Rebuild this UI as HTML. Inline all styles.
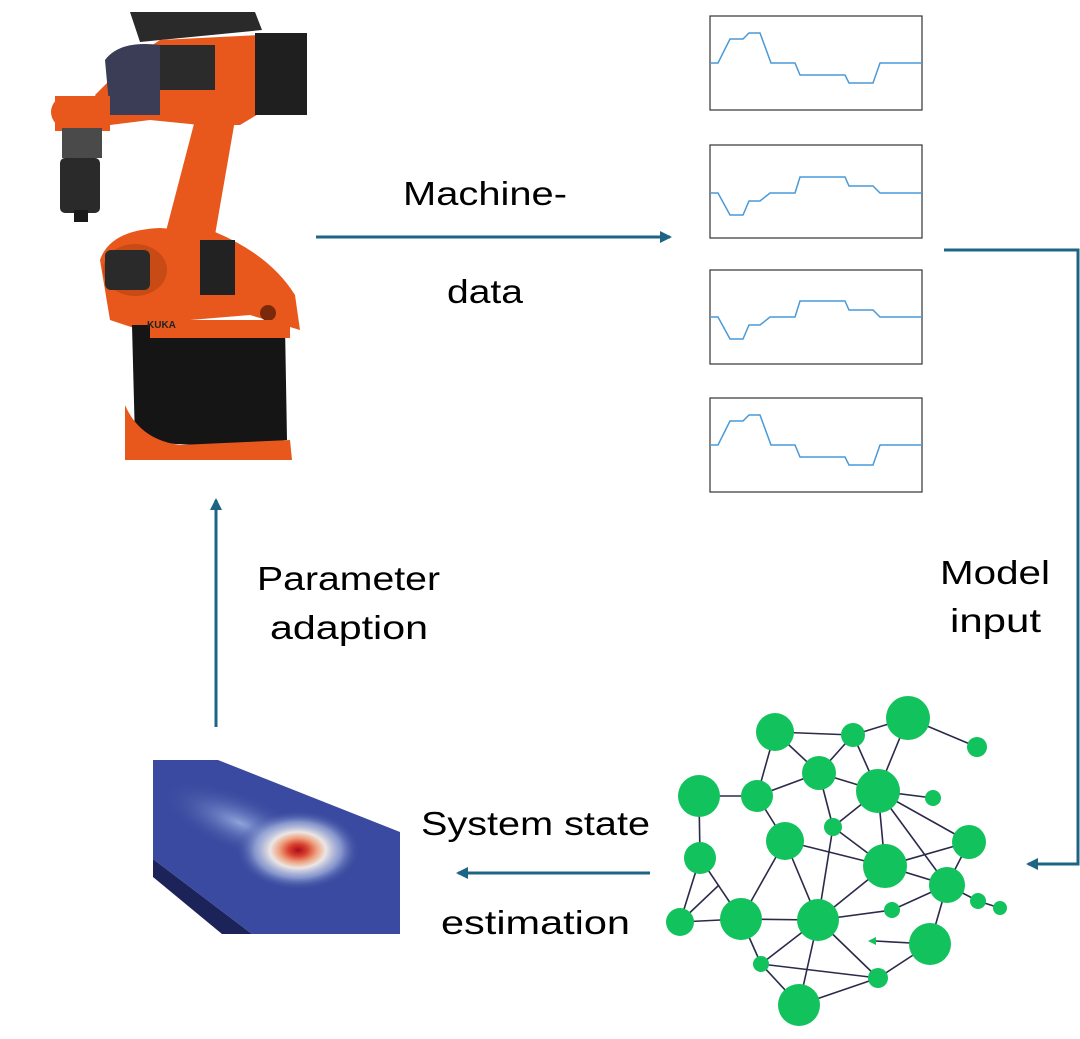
<!DOCTYPE html>
<html><head><meta charset="utf-8"><style>html,body{margin:0;padding:0;background:#fff}svg{display:block}</style></head>
<body>
<svg width="1080" height="1039" viewBox="0 0 1080 1039" xmlns="http://www.w3.org/2000/svg" font-family="Liberation Sans, sans-serif">
<defs>
<marker id="ah" markerWidth="12" markerHeight="12" refX="10" refY="6" orient="auto" markerUnits="userSpaceOnUse"><path d="M0,0 L12,6 L0,12 z" fill="#1e6585"/></marker>
<radialGradient id="hot" cx="0.5" cy="0.5" r="0.5">
<stop offset="0" stop-color="#a80c1c"/><stop offset="0.15" stop-color="#d8402e"/><stop offset="0.3" stop-color="#eea07e"/><stop offset="0.45" stop-color="#ece6e4"/><stop offset="0.7" stop-color="#a6b6e0" stop-opacity="0.7"/><stop offset="1" stop-color="#3a4aa0" stop-opacity="0"/>
</radialGradient>
<radialGradient id="tail" cx="0.5" cy="0.5" r="0.5">
<stop offset="0" stop-color="#8ea4da"/><stop offset="1" stop-color="#3a4aa0" stop-opacity="0"/>
</radialGradient>
</defs>

<!-- Robot -->
<g>
<polygon points="130,12 255,12 262,30 140,42" fill="#2a2a2a"/>
<polygon points="95,95 130,60 160,40 260,35 265,110 240,125 200,125 150,120 110,125" fill="#e8581c"/>
<path d="M105,60 Q120,40 160,45 L160,115 L110,115 Z" fill="#3a3d55"/>
<rect x="160" y="45" width="55" height="45" fill="#2b2b2b"/>
<rect x="255" y="33" width="52" height="82" fill="#1f1f1f"/>
<circle cx="67" cy="112" r="16" fill="#e8581c"/>
<rect x="55" y="96" width="55" height="35" fill="#e8581c"/>
<rect x="62" y="128" width="40" height="30" fill="#4a4a4a"/>
<rect x="60" y="158" width="40" height="55" rx="5" fill="#2a2a2a"/>
<rect x="74" y="210" width="14" height="12" fill="#1a1a1a"/>
<polygon points="195,120 235,120 215,235 175,240 165,235" fill="#e8581c"/>
<path d="M100,260 Q110,230 160,228 L215,232 Q270,255 295,295 L300,330 L250,315 L190,320 L140,330 L110,320 Z" fill="#e8581c"/>
<ellipse cx="135" cy="270" rx="32" ry="26" fill="#c84a14"/>
<rect x="105" y="250" width="45" height="40" rx="6" fill="#2a2a2a"/>
<rect x="200" y="240" width="35" height="55" fill="#222"/>
<circle cx="268" cy="313" r="8" fill="#7a2a0a"/>
<path d="M132,325 L285,325 L287,440 Q210,450 135,440 Z" fill="#151515"/>
<path d="M125,405 Q140,440 180,445 L290,440 L292,460 L125,460 Z" fill="#e8581c"/>
<rect x="150" y="320" width="140" height="18" fill="#e8581c"/>
<text x="147" y="328" font-size="10" font-weight="bold" fill="#222">KUKA</text>
</g>

<!-- Plots -->
<g fill="none" stroke="#333" stroke-width="1.2">
<rect x="710" y="16" width="212" height="94"/>
<rect x="710" y="145" width="212" height="93"/>
<rect x="710" y="270" width="212" height="94"/>
<rect x="710" y="398" width="212" height="94"/>
</g>
<g fill="none" stroke="#4a9ad8" stroke-width="1.5">
<polyline points="710,63 718,63 730,39 743,39 749,33 760,33 771,63 795,63 800,75 845,75 849,83 873,83 880,63 922,63"/>
<polyline points="710,193 718,193 730,215 743,215 749,201 760,201 770,193 795,193 800,177 845,177 849,186 873,186 880,193 922,193"/>
<polyline points="710,317 718,317 730,339 743,339 749,325 760,325 770,317 795,317 800,301 845,301 849,310 873,310 880,317 922,317"/>
<polyline points="710,445 718,445 730,421 743,421 749,415 760,415 771,445 795,445 800,457 845,457 849,465 873,465 880,445 922,445"/>
</g>

<!-- Arrows -->
<g stroke="#1e6585" stroke-width="3" fill="none">
<line x1="316" y1="237" x2="670" y2="237" marker-end="url(#ah)"/>
<polyline points="944,250 1078,250 1078,864 1028,864" marker-end="url(#ah)"/>
<line x1="650" y1="873" x2="458" y2="873" marker-end="url(#ah)"/>
<line x1="216" y1="727" x2="216" y2="500" marker-end="url(#ah)"/>
</g>

<!-- Heat slab -->
<polygon points="153,859 153,877 222,934 252,934" fill="#1c2358"/>
<polygon points="153,760 218,760 400,832 400,934 252,934 153,859" fill="#3a4aa0"/>
<ellipse cx="240" cy="823" rx="85" ry="30" fill="url(#tail)" transform="rotate(22 240 823)"/>
<ellipse cx="298" cy="850" rx="62" ry="40" fill="url(#hot)"/>

<!-- Graph -->
<g stroke="#2a2a4a" stroke-width="1.6">
<line x1="775" y1="732" x2="853" y2="735"/><line x1="853" y1="735" x2="908" y2="718"/><line x1="908" y1="718" x2="977" y2="747"/>
<line x1="775" y1="732" x2="819" y2="773"/><line x1="853" y1="735" x2="819" y2="773"/><line x1="853" y1="735" x2="878" y2="791"/>
<line x1="908" y1="718" x2="878" y2="791"/><line x1="819" y1="773" x2="757" y2="796"/><line x1="819" y1="773" x2="878" y2="791"/>
<line x1="775" y1="732" x2="757" y2="796"/>
<line x1="819" y1="773" x2="833" y2="827"/><line x1="833" y1="827" x2="818" y2="920"/><line x1="878" y1="791" x2="933" y2="798"/>
<line x1="878" y1="791" x2="833" y2="827"/><line x1="833" y1="827" x2="885" y2="866"/><line x1="878" y1="791" x2="885" y2="866"/>
<line x1="878" y1="791" x2="969" y2="842"/><line x1="878" y1="791" x2="947" y2="885"/><line x1="699" y1="796" x2="757" y2="796"/>
<line x1="699" y1="796" x2="700" y2="858"/><line x1="757" y1="796" x2="785" y2="841"/><line x1="785" y1="841" x2="885" y2="866"/>
<line x1="785" y1="841" x2="741" y2="919"/><line x1="785" y1="841" x2="818" y2="920"/><line x1="969" y1="842" x2="885" y2="866"/>
<line x1="969" y1="842" x2="947" y2="885"/><line x1="885" y1="866" x2="947" y2="885"/><line x1="885" y1="866" x2="818" y2="920"/>
<line x1="947" y1="885" x2="978" y2="901"/><line x1="978" y1="901" x2="1000" y2="908"/><line x1="947" y1="885" x2="892" y2="910"/>
<line x1="892" y1="910" x2="818" y2="920"/><line x1="947" y1="885" x2="930" y2="944"/><line x1="700" y1="858" x2="680" y2="922"/>
<line x1="700" y1="858" x2="741" y2="919"/><line x1="680" y1="922" x2="741" y2="919"/><line x1="680" y1="922" x2="719" y2="885"/>
<line x1="741" y1="919" x2="818" y2="920"/><line x1="741" y1="919" x2="761" y2="964"/><line x1="818" y1="920" x2="761" y2="964"/>
<line x1="818" y1="920" x2="799" y2="1005"/><line x1="818" y1="920" x2="878" y2="978"/><line x1="761" y1="964" x2="878" y2="978"/>
<line x1="761" y1="964" x2="799" y2="1005"/><line x1="799" y1="1005" x2="878" y2="978"/><line x1="878" y1="978" x2="930" y2="944"/>
<line x1="930" y1="944" x2="875" y2="941"/>
</g>
<polygon points="868,941 876,937 876,945" fill="#12c25c"/>
<g fill="#12c25c">
<circle cx="775" cy="732" r="19"/><circle cx="853" cy="735" r="12"/><circle cx="908" cy="718" r="22"/><circle cx="977" cy="747" r="10"/>
<circle cx="819" cy="773" r="17"/><circle cx="878" cy="791" r="22"/><circle cx="933" cy="798" r="8"/><circle cx="699" cy="796" r="21"/>
<circle cx="757" cy="796" r="16"/><circle cx="833" cy="827" r="9"/><circle cx="785" cy="841" r="19"/><circle cx="969" cy="842" r="17"/>
<circle cx="885" cy="866" r="22"/><circle cx="700" cy="858" r="16"/><circle cx="947" cy="885" r="18"/><circle cx="978" cy="901" r="8"/>
<circle cx="1000" cy="908" r="7"/><circle cx="892" cy="910" r="8"/><circle cx="680" cy="922" r="14"/><circle cx="741" cy="919" r="21"/>
<circle cx="818" cy="920" r="21"/><circle cx="930" cy="944" r="21"/><circle cx="761" cy="964" r="8"/><circle cx="878" cy="978" r="10"/>
<circle cx="799" cy="1005" r="21"/>
</g>

<!-- Labels -->
<g font-size="33" fill="#000">
<text x="403" y="205" textLength="164" lengthAdjust="spacingAndGlyphs">Machine-</text>
<text x="447" y="303" textLength="76" lengthAdjust="spacingAndGlyphs">data</text>
<text x="257" y="590" textLength="183" lengthAdjust="spacingAndGlyphs">Parameter</text>
<text x="270" y="639" textLength="158" lengthAdjust="spacingAndGlyphs">adaption</text>
<text x="940" y="584" textLength="110" lengthAdjust="spacingAndGlyphs">Model</text>
<text x="950" y="632" textLength="91" lengthAdjust="spacingAndGlyphs">input</text>
<text x="421" y="835" textLength="229" lengthAdjust="spacingAndGlyphs">System state</text>
<text x="441" y="934" textLength="189" lengthAdjust="spacingAndGlyphs">estimation</text>
</g>
</svg>
</body></html>
